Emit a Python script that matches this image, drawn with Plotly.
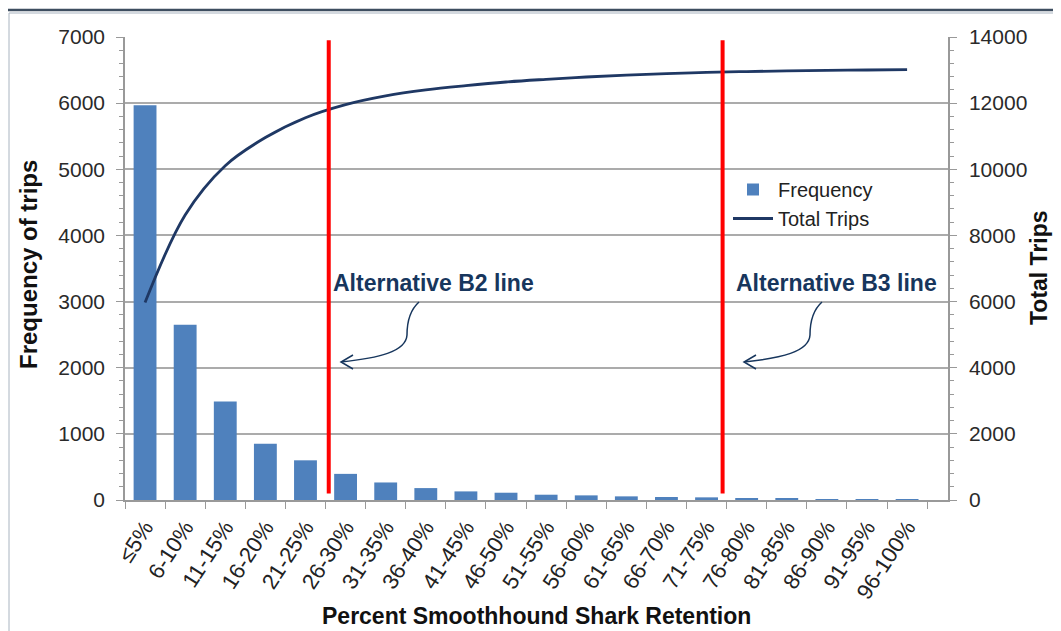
import numpy as np
import plotly.graph_objects as go

categories = ["≤5%", "6-10%", "11-15%", "16-20%", "21-25%", "26-30%", "31-35%",
              "36-40%", "41-45%", "46-50%", "51-55%", "56-60%", "61-65%", "66-70%",
              "71-75%", "76-80%", "81-85%", "86-90%", "91-95%", "96-100%"]
frequency = [5970, 2650, 1490, 850, 600, 395, 265, 180, 130, 110, 80, 70, 55, 45,
             40, 25, 20, 15, 12, 10]
total_trips = list(np.cumsum(frequency))

left_ticks = [0, 1000, 2000, 3000, 4000, 5000, 6000, 7000]
right_ticks = [0, 2000, 4000, 6000, 8000, 10000, 12000, 14000]
alt_lines = {"Alternative B2 line": 4.58, "Alternative B3 line": 14.4}

# screen pixel -> paper helpers (plot area on screen: x 125..948, y 37..500)
OFF = 8  # page body margin
W, H = 1061 - 2 * OFF, 631 - OFF
L, R, T, B = 125, 948, 37, 500
def px(x):
    return (x - L) / (R - L)
def py(y):
    return (B - y) / (B - T)

fig = go.Figure()
fig.add_trace(go.Bar(x=categories, y=frequency, name="Frequency",
                     marker=dict(color="#4F81BD", line=dict(width=0)),
                     yaxis="y"))
fig.add_trace(go.Scatter(x=categories, y=total_trips, name="Total Trips",
                         mode="lines", line=dict(color="#1F3864", width=2.8,
                                                 shape="spline", smoothing=1.0),
                         yaxis="y2"))

axis_font = dict(family="Liberation Sans, Arial, sans-serif", size=21, color="#2A2A2A")

fig.update_layout(
    width=W, height=H,
    margin=dict(l=L - OFF, r=W - (R - OFF), t=T - OFF, b=H - (B - OFF)),
    paper_bgcolor="white", plot_bgcolor="white",
    bargap=0.43,
    showlegend=True,
    legend=dict(x=px(728), y=py(170), xanchor="left", yanchor="top",
                bgcolor="rgba(0,0,0,0)", borderwidth=0,
                font=dict(family="Liberation Sans, Arial, sans-serif", size=20, color="#222222"),
                itemwidth=40, tracegroupgap=2),
    xaxis=dict(type="category", range=[-0.5, 20.02], tickson="boundaries",
               ticks="outside", ticklen=7, tickcolor="#999999",
               showline=True, linecolor="#999999", linewidth=1.5,
               tickangle=-57, ticklabelstandoff=4,
               tickfont=dict(family="Liberation Sans, Arial, sans-serif", size=22, color="#222222"),
               showgrid=False),
    yaxis=dict(range=[0, 7000], tickvals=left_ticks, ticks="outside", ticklen=7,
               tickcolor="#999999", showline=True, linecolor="#999999", linewidth=1.5,
               showgrid=True, gridcolor="#ABABAB", gridwidth=1.5,
               tickfont=axis_font, zeroline=False, tickformat="d", ticklabelstandoff=7,
               minor=dict(dtick=200, ticks="outside", ticklen=4, tickcolor="#999999",
                          showgrid=False)),
    yaxis2=dict(range=[0, 14000], tickvals=right_ticks, overlaying="y", side="right",
                ticks="outside", ticklen=7, tickcolor="#999999", showline=True,
                linecolor="#999999", linewidth=1.5, showgrid=False, zeroline=False,
                tickfont=axis_font, tickformat="d", ticklabelstandoff=8,
                minor=dict(dtick=400, ticks="outside", ticklen=4, tickcolor="#999999",
                           showgrid=False)),
)

title_font = dict(family="Liberation Sans, Arial, sans-serif", size=24, color="#111111")
fig.add_annotation(text="<b>Percent Smoothhound Shark Retention</b>", xref="paper", yref="paper",
                   x=px(536), y=py(616), xanchor="center", yanchor="middle",
                   showarrow=False, font=dict(family="Liberation Sans, Arial, sans-serif",
                                              size=23, color="#111111"))
fig.add_annotation(text="<b>Frequency of trips</b>", xref="paper", yref="paper",
                   x=px(28), y=py(265), xanchor="center", yanchor="middle",
                   textangle=-90, showarrow=False, font=title_font)
fig.add_annotation(text="<b>Total Trips</b>", xref="paper", yref="paper",
                   x=px(1039), y=py(268), xanchor="center", yanchor="middle",
                   textangle=-90, showarrow=False,
                   font=dict(family="Liberation Sans, Arial, sans-serif", size=23, color="#111111"))

ann_font = dict(family="Liberation Sans, Arial, sans-serif", size=23, color="#17365D")
for i, (label, xpos) in enumerate(alt_lines.items()):
    fig.add_shape(type="line", xref="x", yref="y", x0=xpos, x1=xpos, y0=100, y1=6950,
                  line=dict(color="#FF0000", width=4))
    dx = 403 * i
    fig.add_annotation(text="<b>%s</b>" % label, xref="paper", yref="paper",
                       x=px(331 + dx), y=py(283), xanchor="left", yanchor="middle",
                       showarrow=False, font=ann_font)
    path = "M {},{} C {},{} {},{} {},{} C {},{} {},{} {},{}".format(
        px(419 + dx), py(302), px(410 + dx), py(310), px(407 + dx), py(322),
        px(407 + dx), py(335), px(406 + dx), py(352), px(378 + dx), py(358),
        px(341 + dx), py(362))
    fig.add_shape(type="path", xref="paper", yref="paper", path=path,
                  line=dict(color="#17365D", width=1.5))
    head = "M {},{} L {},{} L {},{}".format(px(353 + dx), py(355), px(341 + dx), py(362),
                                           px(353 + dx), py(369))
    fig.add_shape(type="path", xref="paper", yref="paper", path=head,
                  line=dict(color="#17365D", width=1.5))

# outer slide frame
fig.add_shape(type="rect", xref="paper", yref="paper", x0=px(6), x1=px(1080),
              y0=py(660), y1=py(10), line=dict(color="#3E4E60", width=2.5),
              fillcolor="rgba(0,0,0,0)", layer="below")
fig.add_shape(type="rect", xref="paper", yref="paper", x0=px(9), x1=px(1080),
              y0=py(660), y1=py(13), line=dict(color="#A9B4C0", width=1),
              fillcolor="rgba(0,0,0,0)", layer="below")

fig.write_html("out.html")
